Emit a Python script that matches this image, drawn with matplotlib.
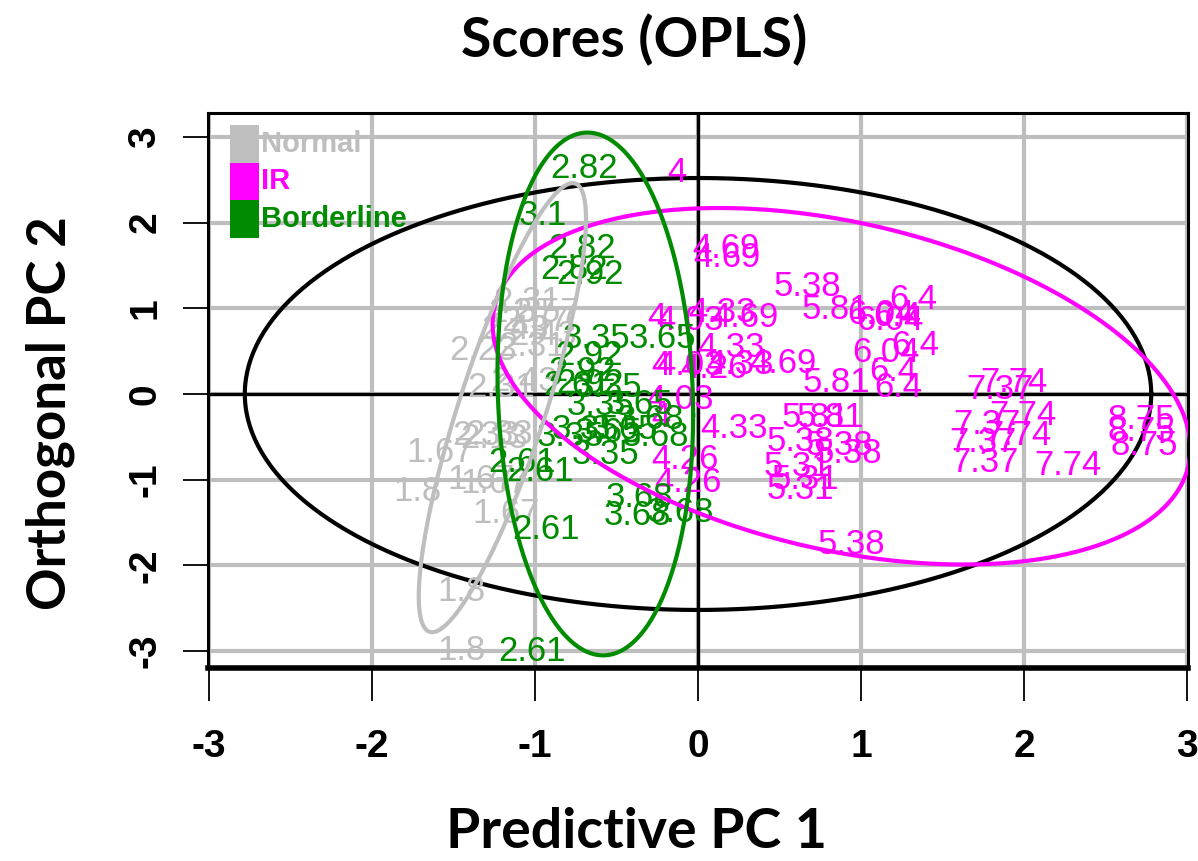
import numpy as np
import matplotlib
matplotlib.use("Agg")
import matplotlib.pyplot as plt
from matplotlib.patches import Rectangle

# ---------------- data ----------------
normal_x = [-1.05, -0.93, -1.00, -1.12, -0.95, -1.02, -1.08, -1.32, -1.21, -1.07,
            -1.30, -1.25, -1.22, -1.58, -1.72, -1.33, -1.25, -1.18, -1.45, -1.45]
normal_y = [1.08, 0.95, 0.85, 0.75, 0.68, 0.55, 0.95, 0.51, 0.07, 0.15,
            -0.48, -0.52, -0.47, -0.68, -1.14, -1.00, -1.05, -1.39, -2.31, -2.99]
normal_lab = ["2.31", "2.57", "2.57", "2.43", "2.43", "2.31", "2.57", "2.23", "2.31", "2.43",
              "2.33", "2.13", "2.33", "1.67", "1.8", "1.67", "1.67", "1.67", "1.8", "1.8"]

border_x = [-0.70, -0.95, -0.71, -0.76, -0.66, -0.62, -0.22, -0.67, -0.71, -0.74,
            -0.66, -0.55, -0.60, -0.36, -0.29, -0.78, -0.55, -0.69, -0.45, -0.26,
            -0.57, -1.08, -0.97, -0.93, -1.02, -0.36, -0.37, -0.11]
border_y = [2.63, 2.08, 1.70, 1.45, 1.39, 0.65, 0.65, 0.45, 0.26, 0.10,
            0.12, 0.08, -0.13, -0.12, -0.30, -0.50, -0.45, -0.42, -0.42, -0.50,
            -0.71, -0.80, -0.90, -1.58, -3.01, -1.21, -1.42, -1.38]
border_lab = ["2.82", "3.1", "2.82", "2.82", "2.92", "3.35", "3.65", "2.92", "2.92", "2.61",
              "2.92", "3.35", "3.35", "3.65", "3.68", "3.35", "3.65", "3.35", "3.65", "3.68",
              "3.35", "2.61", "2.61", "2.61", "2.61", "3.68", "3.68", "3.68"]

ir_x = [-0.13, 0.17, 0.18, 0.67, 0.84, 1.32, 1.12, 1.18, 1.22, 1.33,
        1.15, 1.20, 1.23, 0.85, 0.52, 0.20, -0.23, -0.05, 0.10, 0.26,
        -0.25, -0.05, 0.15, 0.29, -0.11, -0.23, 0.22, -0.08, -0.06, 0.72,
        0.81, 0.63, 0.87, 0.92, 0.61, 0.66, 0.63, 0.94, 1.94, 1.85,
        1.99, 1.77, 1.96, 1.75, 1.76, 2.27, 2.72, 2.72, 2.74]
ir_y = [2.59, 1.70, 1.59, 1.25, 0.98, 1.10, 0.93, 0.86, 0.90, 0.57,
        0.48, 0.26, 0.07, 0.13, 0.36, 0.54, 0.33, 0.33, 0.30, 0.34,
        0.89, 0.86, 0.95, 0.89, -0.07, -0.28, -0.40, -0.77, -1.03, -0.28,
        -0.28, -0.56, -0.60, -0.69, -0.85, -1.00, -1.12, -1.76, 0.13, 0.05,
        -0.25, -0.36, -0.49, -0.57, -0.80, -0.84, -0.30, -0.44, -0.60]
ir_lab = ["4", "4.69", "4.69", "5.38", "5.81", "6.4", "6.04", "6.04", "6.4", "6.4",
          "6.04", "6.4", "6.4", "5.81", "4.69", "4.33", "4", "4.03", "4.26", "4.33",
          "4", "4.03", "4.33", "4.69", "4.03", "4", "4.33", "4.26", "4.26", "5.81",
          "5.81", "5.38", "5.38", "5.38", "5.31", "5.31", "5.31", "5.38", "7.74", "7.37",
          "7.74", "7.37", "7.74", "7.37", "7.37", "7.74", "8.75", "8.75", "8.75"]

# ellipses: center x, center y, half-extent x, half-extent y, correlation
ell_names = ["all", "IR", "Normal", "Borderline"]
ell_cx = [0.0, 0.88, -1.20, -0.63]
ell_cy = [0.0, 0.09, -0.16, 0.00]
ell_sx = [2.78, 2.14, 0.513, 0.60]
ell_sy = [2.52, 2.08, 2.62, 3.05]
ell_r = [0.0, -0.35, 0.84, -0.08]

group_names = ["Normal", "IR", "Borderline"]
group_colors = ["#BEBEBE", "#FF00FF", "#008B00"]
ell_colors = ["black", "#FF00FF", "#BEBEBE", "#008B00"]

ticks = [-3, -2, -1, 0, 1, 2, 3]

# ---------------- figure ----------------
fig = plt.figure(figsize=(11.98, 8.61), dpi=100)
ax = fig.add_axes([0.1736, 0.2242, 0.8181, 0.6446])
ax.set_xlim(-3.006, 3.006)
ax.set_ylim(-3.197, 3.279)

ax.set_xticks(ticks)
ax.set_yticks(ticks)
ax.grid(True, color="#BEBEBE", linewidth=3.0, zorder=0)
ax.set_axisbelow(True)
ax.axhline(0, color="black", linewidth=2.4, zorder=1)
ax.axvline(0, color="black", linewidth=2.4, zorder=1)

for s in ax.spines.values():
    s.set_linewidth(2.2)
    s.set_color("black")
ax.spines["bottom"].set_linewidth(4.0)

tickfont = dict(family="Liberation Sans", weight="bold", size=28)
ax.set_xticklabels([str(t) for t in ticks], fontdict=tickfont)
ax.set_yticklabels([str(t) for t in ticks], fontdict=tickfont, rotation=90, va="center")
ax.tick_params(axis="x", direction="out", length=24, width=1.3, pad=20)
ax.tick_params(axis="y", direction="out", length=18, width=1.3, pad=14)

# ellipses
t = np.linspace(0, 2 * np.pi, 400)
for cx, cy, sx, sy, r, c in zip(ell_cx, ell_cy, ell_sx, ell_sy, ell_r, ell_colors):
    ex = cx + sx * np.cos(t)
    ey = cy + sy * (r * np.cos(t) + np.sqrt(1 - r * r) * np.sin(t))
    ax.plot(ex, ey, color=c, linewidth=3.0, zorder=3 if c == "black" else 5)

labfont = dict(family="Liberation Sans", size=25)
for xs, ys, labs, col in [(normal_x, normal_y, normal_lab, group_colors[0]),
                          (ir_x, ir_y, ir_lab, group_colors[1]),
                          (border_x, border_y, border_lab, group_colors[2])]:
    for x, y, s in zip(xs, ys, labs):
        ax.text(x, y, s, color=col, ha="center", va="center", zorder=4, **labfont)

# legend (drawn manually like R's legend with fill boxes)
for i, (name, col) in enumerate(zip(group_names, group_colors)):
    y0 = 0.978 - (i + 1) * 0.0676
    ax.add_patch(Rectangle((0.0224, y0), 0.0296, 0.0676, transform=ax.transAxes,
                           facecolor=col, edgecolor="none", zorder=6))
    ax.text(0.054, y0 + 0.0338, name, transform=ax.transAxes, color=col,
            ha="left", va="center", family="Liberation Sans", weight="bold",
            size=21, zorder=6)

fig.text(634 / 1198, 1 - 40 / 861, "Scores (OPLS)", ha="center", va="center",
         family="Lato", weight="bold", size=40)
fig.text(636 / 1198, 1 - 832 / 861, "Predictive PC 1", ha="center", va="center",
         family="Lato", weight="bold", size=40)
fig.text(50 / 1198, 1 - 413 / 861, "Orthogonal PC 2", ha="center", va="center",
         rotation=90, family="Lato", weight="bold", size=38)

fig.savefig("out.png", dpi=100)
